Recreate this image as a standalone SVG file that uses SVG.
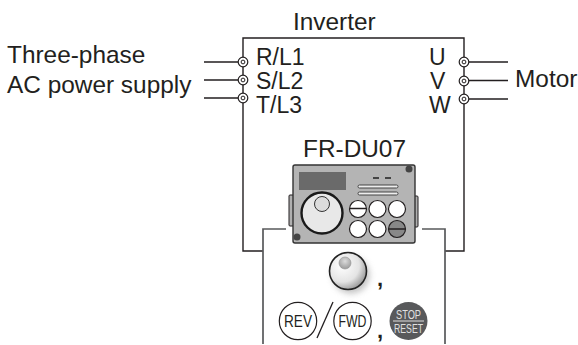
<svg xmlns="http://www.w3.org/2000/svg" width="578" height="345" viewBox="0 0 578 345">
<defs>
<style>
text{font-family:"Liberation Sans",Arial,sans-serif;fill:#231f20}
.l{font-size:24.400px}
.p{font-size:23px}
.w{fill:none;stroke:#231f20;stroke-width:1.4}
.g{fill:none;stroke:#58595b;stroke-width:1.7}
.t{fill:#fff;stroke:#231f20;stroke-width:1.2}
.k{fill:#fff;stroke:#231f20;stroke-width:1.2}
.s{fill:#e0e0e0;font-size:13px}
.cap{font-size:16.500px}
.tab{fill:#b0b0b0;stroke:#231f20;stroke-width:1}
.c{font-size:22px;font-weight:bold}
</style>
<radialGradient id="dial" cx="0.35" cy="0.35" r="0.75"><stop offset="0" stop-color="#fff"/><stop offset="0.6" stop-color="#e4e4e4"/><stop offset="1" stop-color="#8a8a8a"/></radialGradient>
<radialGradient id="dialcap" cx="0.5" cy="0.35" r="0.65"><stop offset="0" stop-color="#dcdcdc"/><stop offset="1" stop-color="#9a9a9a"/></radialGradient>
<filter id="sh" x="-30%" y="-30%" width="170%" height="170%"><feGaussianBlur stdDeviation="3"/></filter>
<g id="term"><circle r="4.800" class="t"/><circle r="1.900" fill="none" stroke="#231f20" stroke-width="1"/></g>
</defs>
<g id="connectors">
<path class="w" d="M243 62V38H464V62M243 100V251H263M464 100V251H445"/>
<path class="w" d="M204 62H238M204 80H238M204 98H238M469 62H508M469 80.500H508M469 99H508"/>
<path class="w" d="M243 62V100M464 62V100"/>
<path class="g" d="M286 229H263V344M422 229H445V344"/>
</g>
<g id="inverter"><text class="l" x="293" y="30">Inverter</text></g>
<g id="supply"><text class="l" x="7" y="63">Three-phase</text><text class="l" x="7" y="93">AC power supply</text></g>
<g id="motor"><text class="l" x="515" y="87">Motor</text></g>
<g id="terminals-in">
<use href="#term" x="243" y="62"/><use href="#term" x="243" y="80"/><use href="#term" x="243" y="98"/>
<text class="p" x="256" y="65">R/L1</text><text class="p" x="256" y="89">S/L2</text><text class="p" x="256" y="113">T/L3</text>
</g>
<g id="terminals-out">
<use href="#term" x="464" y="62"/><use href="#term" x="464" y="81"/><use href="#term" x="464" y="99"/>
<text class="p" x="429" y="65">U</text><text class="p" x="430" y="89">V</text><text class="p" x="429" y="113">W</text>
</g>
<g id="fr-du07">
<text class="l" x="303" y="157">FR-DU07</text>
<rect x="289" y="195" width="8" height="31" rx="1" class="tab"/>
<rect x="411" y="196" width="7" height="31" rx="1" class="tab"/>
<rect x="293" y="165" width="122" height="78" rx="2" fill="#b4b4b4" stroke="#333" stroke-width="1.400"/>
<rect x="299" y="172" width="47" height="18" fill="#6a6a6a"/>
<circle cx="409" cy="169" r="3.500" fill="#444"/><circle cx="297" cy="237" r="3.500" fill="#444"/>
<path d="M373 178h6M385 178h6" stroke="#444" stroke-width="2"/>
<rect x="358" y="185" width="40" height="3" rx="1.500" fill="#eee" stroke="#444" stroke-width="1"/>
<rect x="358" y="192" width="40" height="3" rx="1.500" fill="#eee" stroke="#444" stroke-width="1"/>
<circle cx="322" cy="213" r="20.500" fill="#e8e8e8" stroke="#1a1a1a" stroke-width="2.400"/>
<circle cx="322" cy="204" r="7.500" fill="#dcdcdc" stroke="#333" stroke-width="1"/>
<circle cx="358" cy="209" r="8.500" class="k"/><path d="M350 208.500H366" stroke="#231f20" stroke-width="1.500"/>
<circle cx="377.500" cy="209" r="8.500" class="k"/><circle cx="397" cy="209" r="8.500" class="k"/>
<circle cx="358" cy="229" r="8.500" class="k"/><circle cx="377.500" cy="229" r="8.500" class="k"/>
<circle cx="397" cy="229" r="8.500" fill="#888" stroke="#231f20" stroke-width="1.200"/><path d="M389 229H405" stroke="#231f20" stroke-width="1.500"/>
</g>
<g id="dial-key">
<circle cx="351" cy="275" r="18.500" fill="#999" opacity="0.6" filter="url(#sh)"/>
<circle cx="348" cy="271" r="18.500" fill="url(#dial)" stroke="#222" stroke-width="1.600"/>
<circle cx="345" cy="263" r="6" fill="url(#dialcap)" stroke="#999" stroke-width="0.700"/>
<text x="377" y="286" class="c">,</text>
</g>
<g id="rev-key"><circle cx="298" cy="321" r="18.700" class="k"/><text x="298" y="327" class="cap" text-anchor="middle" textLength="28" lengthAdjust="spacingAndGlyphs">REV</text></g>
<g id="slash"><path d="M317 338L333 302" stroke="#231f20" stroke-width="1.300" fill="none"/></g>
<g id="fwd-key"><circle cx="352.500" cy="321" r="18.700" class="k"/><text x="352.500" y="327" class="cap" text-anchor="middle" textLength="28" lengthAdjust="spacingAndGlyphs">FWD</text></g>
<g id="stop-key">
<text x="377" y="338" class="c">,</text>
<circle cx="408.500" cy="321" r="19" fill="#58595b"/>
<text x="408.500" y="319" class="s" text-anchor="middle" textLength="25" lengthAdjust="spacingAndGlyphs">STOP</text>
<path d="M393 321H424" stroke="#e0e0e0" stroke-width="1"/>
<text x="408.500" y="333" class="s" text-anchor="middle" textLength="29" lengthAdjust="spacingAndGlyphs">RESET</text>
</g>
</svg>
